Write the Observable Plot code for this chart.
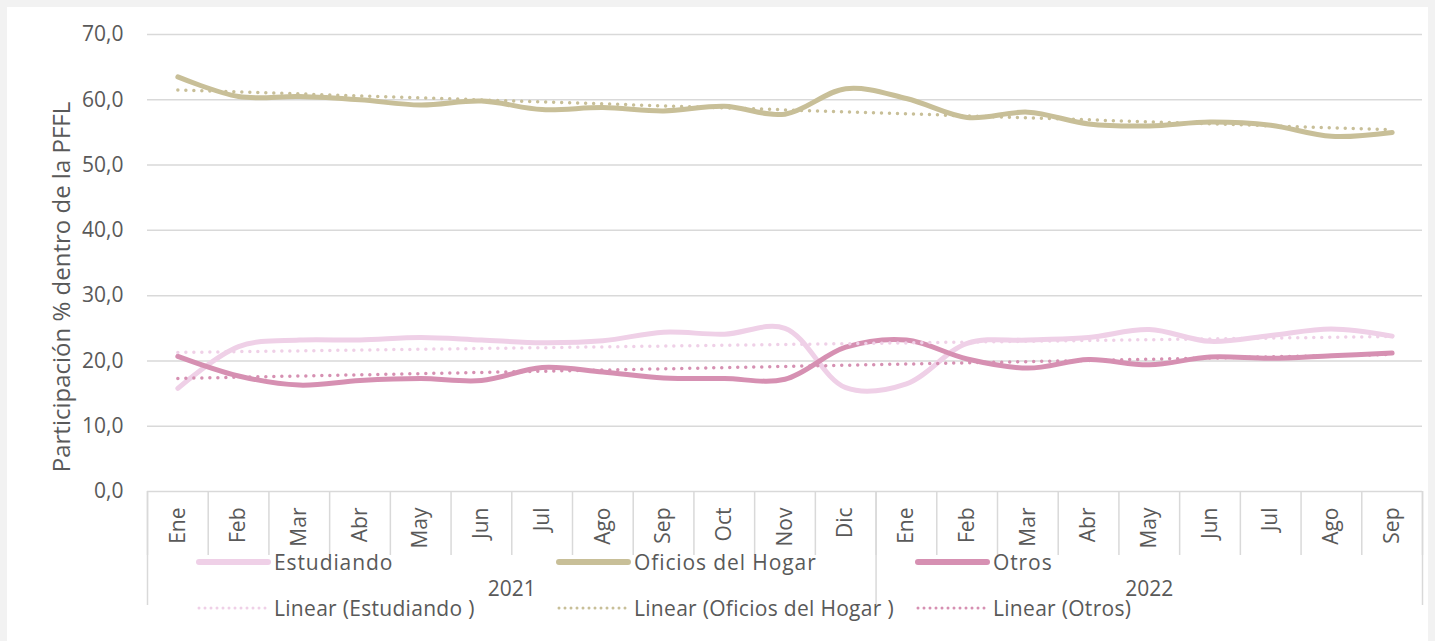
<!DOCTYPE html>
<html>
<head>
<meta charset="utf-8">
<script src="https://cdn.jsdelivr.net/npm/d3@7"></script>
<script src="https://cdn.jsdelivr.net/npm/@observablehq/plot@0.6"></script>
<style>
  html, body { margin: 0; padding: 0; background: #f2f2f2; }
  #panel { position: absolute; left: 7px; top: 7px; width: 1421px; height: 634px; background: #fff; font-family: "Open Sans", sans-serif; color: #595959; }
  .leg { position: absolute; display: flex; align-items: center; font-size: 21px; letter-spacing: 0.3px; color: #595959; white-space: nowrap; }
  .leg svg { margin-right: 2px; }
</style>
</head>
<body>
<div id="panel"></div>
<script>
const months = ["Ene","Feb","Mar","Abr","May","Jun","Jul","Ago","Sep","Oct","Nov","Dic",
                "Ene","Feb","Mar","Abr","May","Jun","Jul","Ago","Sep"];
const years = ["2021", "2022"];
const yearFirstIndex = [0, 12];
const yearLastIndex = [11, 20];
const seriesNames = ["Estudiando", "Oficios del Hogar", "Otros"];
const trendNames = ["Linear (Estudiando )", "Linear (Oficios del Hogar )", "Linear (Otros)"];
const seriesColors = ["#efd0e7", "#c8bf98", "#d690b2"];
const estudiando = [15.8,22.2,23.2,23.2,23.6,23.2,22.8,23.1,24.4,24.1,25.0,15.9,16.5,22.7,23.2,23.6,24.8,23.0,23.9,24.9,23.8];
const oficios    = [63.5,60.5,60.5,60.0,59.2,59.8,58.5,58.8,58.3,59.0,57.8,61.7,60.2,57.3,58.1,56.3,56.0,56.6,56.1,54.4,55.0];
const otros      = [20.7,17.7,16.3,17.0,17.3,17.0,19.0,18.3,17.4,17.3,17.2,22.1,23.2,20.3,18.9,20.2,19.4,20.6,20.4,20.8,21.2];
const yTicks = [0,10,20,30,40,50,60,70];
const yLabel = "Participación % dentro de la PFFL";

const seriesValues = [estudiando, oficios, otros];
const rows = seriesNames.flatMap((s, k) => seriesValues[k].map((v, i) => ({series: s, i, v})));
const boundaries = d3.range(months.length + 1).map(i => i - 0.5);
const yearBounds = [yearFirstIndex[0] - 0.5, ...yearLastIndex.map(i => i + 0.5)];
const yearMid = years.map((y, k) => ({year: y, x: (yearFirstIndex[k] - 0.5 + yearLastIndex[k] + 0.5) / 2}));
const fmt = d => d.toFixed(1).replace(".", ",");
const grey = "#d9d9d9";
const txt = "#595959";

const chart = Plot.plot({
  width: 1421,
  height: 634,
  marginLeft: 140,
  marginRight: 6,
  marginTop: 27,
  marginBottom: 150,
  style: {fontFamily: "'Open Sans', sans-serif", background: "transparent", color: txt},
  x: {type: "linear", domain: [-0.5, months.length - 0.5], axis: null},
  y: {domain: [0, 70], axis: null},
  color: {domain: seriesNames, range: seriesColors},
  marks: [
    Plot.gridY(yTicks, {stroke: grey, strokeOpacity: 1, strokeWidth: 1.5}),
    Plot.axisY(yTicks, {tickSize: 0, tickPadding: 24, tickFormat: fmt, fontSize: 21, fill: txt, label: null, style: "letter-spacing: 0.8px"}),
    Plot.text([yLabel], {frameAnchor: "left", dx: -85, dy: 24, rotate: -90, textAnchor: "middle", fontSize: 24, fill: txt, style: "letter-spacing: 3px"}),
    Plot.axisX(boundaries, {tickSize: 64, tickFormat: () => "", stroke: grey, strokeWidth: 1.5, label: null}),
    Plot.axisX(yearBounds, {tickSize: 114, tickFormat: () => "", stroke: grey, strokeWidth: 1.5, label: null}),
    Plot.text(months, {x: (d, i) => i, frameAnchor: "bottom", dy: 16, rotate: -90, textAnchor: "end", lineAnchor: "middle", fontSize: 21, fill: txt, style: "letter-spacing: 1px"}),
    Plot.text(yearMid, {x: "x", text: "year", frameAnchor: "bottom", dy: 104, fontSize: 21, fill: txt}),
    Plot.line(rows, {x: "i", y: "v", stroke: "series", z: "series", curve: "catmull-rom", strokeWidth: 5, strokeLinecap: "round"}),
    Plot.linearRegressionY(rows, {x: "i", y: "v", stroke: "series", z: "series", ci: 0, strokeWidth: 3.5, strokeDasharray: "0 8", strokeLinecap: "round"})
  ]
});
const panel = document.getElementById("panel");
panel.appendChild(chart);

// Legend
const legendCols = [188, 548, 907];
const legendRows = [555, 601];
seriesNames.forEach((name, k) => {
  [0, 1].forEach(r => {
    const div = document.createElement("div");
    div.className = "leg";
    div.style.left = legendCols[k] + "px";
    div.style.top = (legendRows[r] - 15) + "px";
    div.style.height = "30px";
    if (r === 0) div.style.letterSpacing = "0.9px";
    const dash = r === 1 ? `stroke-dasharray="0 6" stroke-width="3"` : `stroke-width="6"`;
    div.innerHTML = `<svg width="77" height="10"><line x1="4" x2="73" y1="5" y2="5" stroke="${seriesColors[k]}" ${dash} stroke-linecap="round"/></svg><span>${r === 1 ? trendNames[k] : name}</span>`;
    panel.appendChild(div);
  });
});
</script>
</body>
</html>
